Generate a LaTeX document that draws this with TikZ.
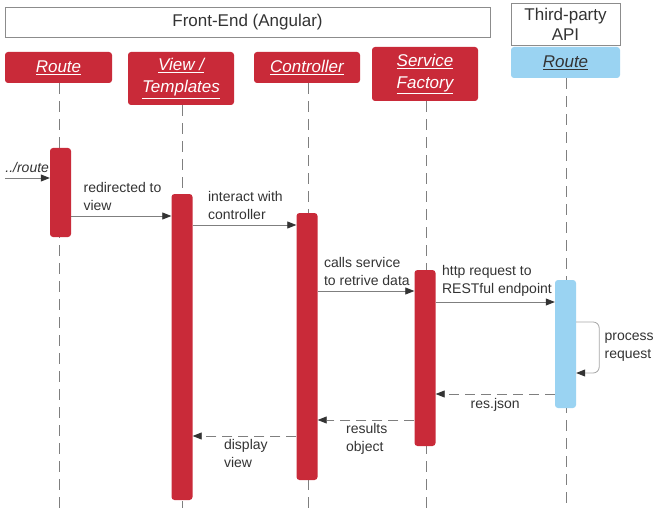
\documentclass[tikz,border=0pt]{standalone}
\usepackage{fontspec}
\setmainfont{Liberation Sans}
\usepackage{xcolor}
\usetikzlibrary{arrows.meta}
\definecolor{fered}{HTML}{C92A39}
\definecolor{apiblue}{HTML}{9AD3F2}
\definecolor{linegray}{HTML}{7F7F7F}
\definecolor{txtgray}{HTML}{333333}

\begin{document}
\begin{tikzpicture}[x=1pt,y=-1pt,
header/.style={draw=black!45,line width=0.8pt,inner sep=0pt,align=center,
  text=txtgray,font=\fontsize{17}{20}\selectfont},
actor/.style={fill=fered,rounded corners=3pt,inner sep=0pt,align=center,
  text=white,font=\fontsize{17}{22}\selectfont\itshape},
apiactor/.style={actor,fill=apiblue,text=txtgray},
bar/.style={fill=fered,rounded corners=3pt,minimum width=21,inner sep=0pt},
apibar/.style={bar,fill=apiblue},
lifeline/.style={draw=linegray,line width=0.8pt,dash pattern=on 11pt off 7pt},
msg/.style={draw=linegray,line width=0.8pt,-{Triangle[length=9pt,width=7pt,color=txtgray]}},
reply/.style={msg,dash pattern=on 10pt off 6pt},
lbl/.style={inner sep=0pt,align=left,text=txtgray,font=\fontsize{14}{18}\selectfont}]
\useasboundingbox (0,0) rectangle (656,508);

% headers
\node[header,minimum width=485,minimum height=30] (fe) at (247.5,22) {Front-End (Angular)};
\node[header,minimum width=109,minimum height=42] (tp) at (565.5,24) {Third-party\\API};

% actors
\node[actor,minimum width=107,minimum height=31] (route) at (58.5,67.5) {\underline{Route}};
\node[actor,minimum width=106,minimum height=53] (view) at (181,78.5) {\underline{View /}\\\underline{Templates}};
\node[actor,minimum width=106,minimum height=31] (ctrl) at (307,67.5) {\underline{Controller}};
\node[actor,minimum width=106,minimum height=54] (svc) at (425,74) {\underline{Service}\\\underline{Factory}};
\node[apiactor,minimum width=109,minimum height=31] (api) at (565.5,62.5) {\underline{Route}};

% lifelines
\foreach \a in {route,view,ctrl,svc,api}
  \draw[lifeline] ([xshift=1pt]\a.south) -- ([xshift=1pt]\a.south |- 0,508);

% activations
\node[bar,minimum height=89] (rbar) at ([xshift=2pt]route |- 0,192.5) {};
\node[bar,minimum height=306] (vbar) at ([xshift=1pt]view |- 0,347) {};
\node[bar,minimum height=267] (cbar) at (ctrl |- 0,346.5) {};
\node[bar,minimum height=176] (sbar) at (svc |- 0,358) {};
\node[apibar,minimum height=128] (abar) at (api |- 0,344) {};

% messages
\coordinate (start) at (5,178);
\draw[msg] (start) -- node[lbl,pos=0,anchor=south west,yshift=5,font=\fontsize{14}{18}\selectfont\itshape] {../route} (rbar.west |- start);
\draw[msg] (rbar.east |- 0,216) -- node[lbl,pos=0,anchor=south west,xshift=12,yshift=5] {redirected to\\view} (vbar.west |- 0,216);
\draw[msg] (vbar.east |- 0,225) -- node[lbl,pos=0,anchor=south west,xshift=15,yshift=5] {interact with\\controller} (cbar.west |- 0,225);
\draw[msg] (cbar.east |- 0,291) -- node[lbl,pos=0,anchor=south west,xshift=6,yshift=5] {calls service\\to retrive data} (sbar.west |- 0,291);
\draw[msg] (sbar.east |- 0,302) -- node[lbl,pos=0,anchor=south west,xshift=6,yshift=5] {http request to\\RESTful endpoint} (abar.west |- 0,302);
\draw[msg,draw=black!35,rounded corners=6pt] (abar.east |- 0,322) -- ++(23,0) |- node[lbl,pos=0.25,anchor=west,xshift=5] {process\\request} (abar.east |- 0,373);

% replies
\draw[reply] (abar.west |- 0,394) -- node[lbl,anchor=north,yshift=-4] {res.json} (sbar.east |- 0,394);
\draw[reply] (sbar.west |- 0,420) -- node[lbl,pos=1,anchor=north west,xshift=28,yshift=-3] {results\\object} (cbar.east |- 0,420);
\draw[reply] (cbar.west |- 0,436) -- node[lbl,pos=1,anchor=north west,xshift=31,yshift=-3] {display\\view} (vbar.east |- 0,436);
\end{tikzpicture}
\end{document}
